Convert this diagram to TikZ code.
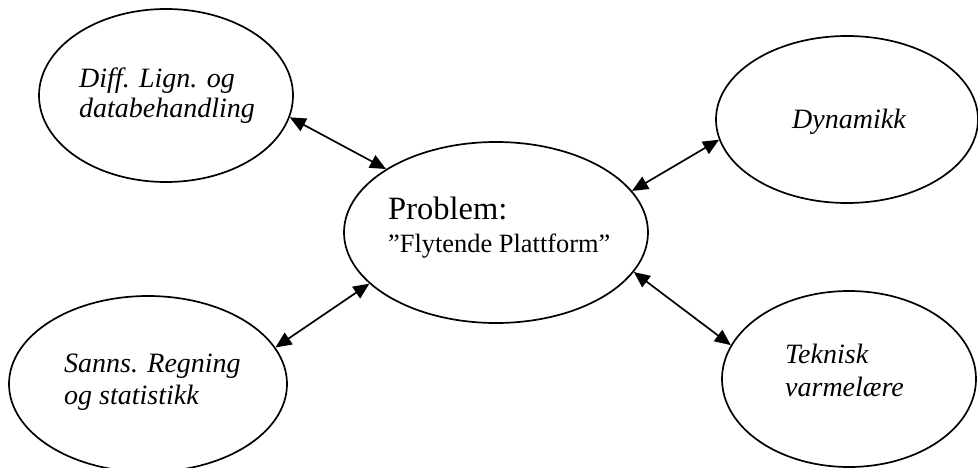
\documentclass[tikz,border=0pt]{standalone}
\usepackage{fontspec}
\setmainfont{Liberation Serif}
\usetikzlibrary{shapes.geometric,arrows.meta}
\begin{document}
\begin{tikzpicture}[x=1pt,y=-1pt,
  oval/.style={draw, ellipse, line width=1.7pt, inner sep=0pt},
  lbl/.style={anchor=base west, inner sep=0pt, font=\fontsize{28}{30}\selectfont\itshape},
  tipA/.tip={Triangle[length=16pt,width=14pt]},
  link/.style={line width=1.7pt, tipA-tipA}]
\useasboundingbox (0,0) rectangle (978,468);
% ellipses
\node[oval, minimum width=254pt, minimum height=173pt] (tl) at (166,95.5) {};
\node[oval, minimum width=262pt, minimum height=167pt] (tr) at (847,119.5) {};
\node[oval, minimum width=304pt, minimum height=181pt] (c) at (496,232.5) {};
\node[oval, minimum width=278pt, minimum height=176pt] (bl) at (148,384) {};
\node[oval, minimum width=254pt, minimum height=176pt] (br) at (849,379) {};
% texts
\node[lbl] (tl1) at (79,88) {Diff. Lign. og};
\node[lbl] (tl2) at (79,118) {databehandling};
\node[lbl] (tr1) at (792,129) {Dynamikk};
\node[lbl] (bl1) at (64,372) {Sanns. Regning};
\node[lbl] (bl2) at (64,404) {og statistikk};
\node[lbl] (br1) at (785,363) {Teknisk};
\node[lbl] (br2) at (785,396) {varmelære};
\node[anchor=base west, inner sep=0pt, font=\fontsize{32.5}{34}\selectfont] (c1) at (388,219) {Problem:};
\node[anchor=base west, inner sep=0pt, font=\fontsize{26.4}{28}\selectfont] (c2) at (388,252) {”Flytende Plattform”};
% connectors
\draw[link] (tl.-10) -- (c.150);
\draw[link] (c.17.7) -- (tr.189.4);
\draw[link] (c.202) -- (bl.16);
\draw[link] (c.-16.5) -- (br.164.2);
\end{tikzpicture}
\end{document}
